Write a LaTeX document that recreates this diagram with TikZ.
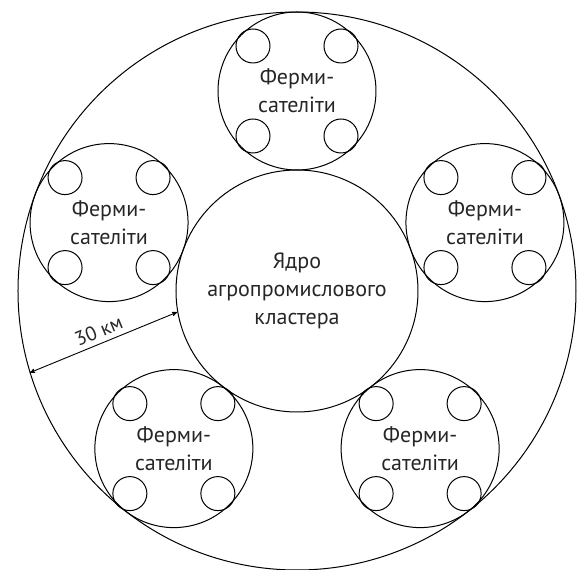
\documentclass[tikz,border=0pt]{standalone}
\usepackage{fontspec}
\setmainfont{PT Sans}
\usetikzlibrary{arrows}
\usetikzlibrary{calc,positioning}

\begin{document}
\begin{tikzpicture}[x=1pt,y=1pt,>=stealth',line width=1pt,
  txt/.style={text=black!85, font=\fontsize{22}{28}\selectfont, align=center},
  ring/.style={circle, draw, inner sep=0pt},
  sat/.style={ring, txt, minimum size=158pt},
  farm/.style={ring, minimum size=34pt}]
  \useasboundingbox (-297,-279) rectangle (282,291);

\node[ring, minimum size=558pt] (outer) at (0,0) {};
\node[ring, txt, minimum size=242pt] (core) at (0,0) {Ядро\\агропромислового\\кластера};

% five satellite farms round the core
\foreach \i/\a in {1/90,2/160,3/232,4/308,5/20}{
  \node[sat] (sat\i) at (\a:200) {Ферми-\\сателіти};
  \node[farm] (farm\i a) at ($(sat\i)+(-44,45)$) {};
  \node[farm] (farm\i b) at ($(sat\i)+(44,45)$) {};
  \node[farm] (farm\i c) at ($(sat\i)+(-44,-45)$) {};
  \node[farm] (farm\i d) at ($(sat\i)+(44,-45)$) {};
}

\draw[<->, line width=0.9pt] (outer.197) -- (core.190)
    node[midway, above=5pt, sloped, inner sep=0pt, txt, font=\fontsize{20}{24}\selectfont]{30 км};

\end{tikzpicture}
\end{document}
